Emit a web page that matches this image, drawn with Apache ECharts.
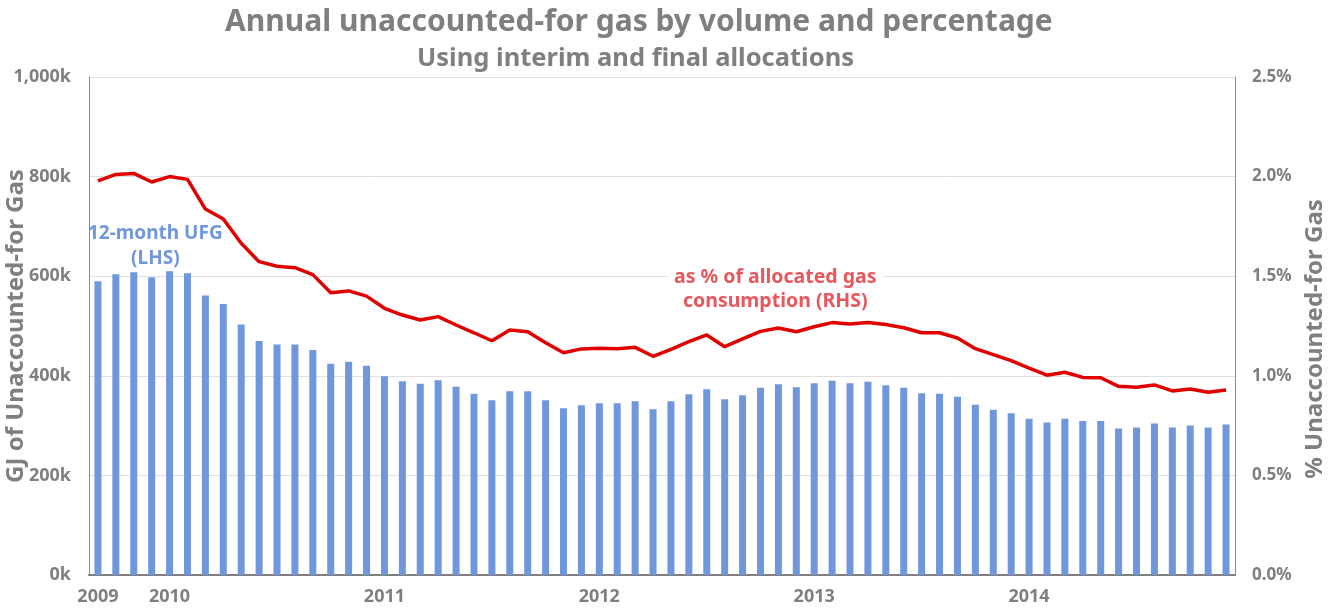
<!DOCTYPE html>
<html>
<head>
<meta charset="utf-8">
<title>Annual unaccounted-for gas</title>
<script src="https://cdn.jsdelivr.net/npm/echarts@6/dist/echarts.min.js"></script>
<style>
  html, body { margin: 0; padding: 0; background: #fff; }
  #chart { width: 1334px; height: 612px; }
</style>
</head>
<body>
<div id="chart"></div>
<script>
// months, Sep 2009 - Dec 2014
var months = [
  '2009-09', '2009-10', '2009-11', '2009-12',
  '2010-01', '2010-02', '2010-03', '2010-04', '2010-05', '2010-06', '2010-07', '2010-08', '2010-09', '2010-10', '2010-11', '2010-12',
  '2011-01', '2011-02', '2011-03', '2011-04', '2011-05', '2011-06', '2011-07', '2011-08', '2011-09', '2011-10', '2011-11', '2011-12',
  '2012-01', '2012-02', '2012-03', '2012-04', '2012-05', '2012-06', '2012-07', '2012-08', '2012-09', '2012-10', '2012-11', '2012-12',
  '2013-01', '2013-02', '2013-03', '2013-04', '2013-05', '2013-06', '2013-07', '2013-08', '2013-09', '2013-10', '2013-11', '2013-12',
  '2014-01', '2014-02', '2014-03', '2014-04', '2014-05', '2014-06', '2014-07', '2014-08', '2014-09', '2014-10', '2014-11', '2014-12'
]

// 12-month UFG, GJ (left axis)
var ufgVolume = [
  590000, 604000, 608000, 598000,
  610000, 606000, 561000, 544000, 503000, 470000, 463000, 463000, 452000, 424000, 428000, 420000,
  399000, 389000, 384000, 391000, 378000, 364000, 351000, 369000, 369000, 351000, 335000, 341000,
  345000, 345000, 349000, 333000, 349000, 363000, 373000, 353000, 361000, 376000, 383000, 377000,
  385000, 390000, 385000, 388000, 381000, 376000, 365000, 364000, 358000, 342000, 332000, 325000,
  314000, 306000, 314000, 309000, 309000, 294000, 296000, 304000, 296000, 300000, 296000, 302000
]

// UFG as % of allocated gas consumption (right axis)
var ufgPercent = [
  1.979, 2.011, 2.016, 1.973,
  2.000, 1.986, 1.837, 1.787, 1.665, 1.573, 1.550, 1.543, 1.508, 1.417, 1.426, 1.400,
  1.339, 1.305, 1.280, 1.297, 1.255, 1.216, 1.176, 1.230, 1.221, 1.166, 1.116, 1.135,
  1.138, 1.136, 1.143, 1.098, 1.133, 1.171, 1.205, 1.146, 1.185, 1.223, 1.240, 1.221,
  1.246, 1.267, 1.260, 1.267, 1.258, 1.241, 1.216, 1.216, 1.190, 1.136, 1.106, 1.076,
  1.038, 1.003, 1.018, 0.992, 0.990, 0.947, 0.942, 0.954, 0.924, 0.934, 0.917, 0.929
]

var grey = '#7f7f7f'
var font = 'Noto Sans'

var chart = echarts.init(document.getElementById('chart'))
chart.setOption({
  animation: false,
  textStyle: { fontFamily: font },
  title: [
    {
      text: 'Annual unaccounted-for gas by volume and percentage',
      left: 220,
      top: 2,
      textStyle: { fontFamily: font, fontSize: 30, fontWeight: 'bold', color: grey }
    },
    {
      text: 'Using interim and final allocations',
      left: 412,
      top: 41,
      textStyle: { fontFamily: font, fontSize: 25.5, fontWeight: 'bold', color: grey }
    }
  ],
  grid: { left: 89, right: 99, top: 77, bottom: 37, containLabel: false, outerBoundsMode: 'none' },
  xAxis: {
    type: 'category',
    data: months,
    boundaryGap: true,
    axisLine: { lineStyle: { color: '#7f7f7f', width: 2 } },
    axisTick: { show: false },
    axisLabel: {
      interval: 0,
      margin: 13,
      color: grey,
      fontSize: 18,
      fontWeight: 'bold',
      formatter: function(v, i) {
        // year label on the first month and every January
        if (i === 0 || v.slice(5) === '01') return v.slice(0, 4)
        return ''
      }
    }
  },
  yAxis: [
    {
      type: 'value',
      min: 0,
      max: 1000000,
      interval: 200000,
      name: 'GJ of Unaccounted-for Gas',
      nameLocation: 'middle',
      nameGap: 61,
      nameMoveOverlap: false,
      nameTextStyle: { color: grey, fontSize: 24, fontWeight: 'bold' },
      axisLine: { show: true, lineStyle: { color: '#8c8c8c' } },
      axisTick: { show: false },
      axisLabel: {
        margin: 18,
        color: grey,
        fontSize: 18,
        fontWeight: 'bold',
        formatter: function(v) {
          return (v / 1000).toLocaleString('en-US') + 'k'
        }
      },
      splitLine: { lineStyle: { color: '#e0e0e0' } }
    },
    {
      type: 'value',
      min: 0,
      max: 2.5,
      interval: 0.5,
      name: '% Unaccounted-for Gas',
      nameLocation: 'middle',
      nameGap: 68,
      nameMoveOverlap: false,
      nameTextStyle: { color: grey, fontSize: 24, fontWeight: 'bold', padding: [0, 26, 0, 0] },
      axisLine: { show: true, lineStyle: { color: '#8c8c8c' } },
      axisTick: { show: false },
      axisLabel: {
        margin: 17,
        color: grey,
        fontSize: 17,
        fontWeight: 'bold',
        formatter: function(v) { return v.toFixed(1) + '%' }
      },
      splitLine: { show: false }
    }
  ],
  series: [
    {
      name: '12-month UFG (LHS)',
      type: 'bar',
      yAxisIndex: 0,
      data: ufgVolume,
      barWidth: 7,
      itemStyle: { color: '#7096db' }
    },
    {
      name: 'as % of allocated gas consumption (RHS)',
      type: 'line',
      yAxisIndex: 1,
      data: ufgPercent,
      symbol: 'none',
      lineStyle: { color: '#e00000', width: 3.5 },
      z: 5
    }
  ],
  graphic: [
    {
      type: 'text',
      left: 88,
      top: 221,
      z: 10,
      style: {
        text: '12-month UFG\n(LHS)',
        fill: '#7096db',
        font: 'bold 19px "Noto Sans"',
        lineHeight: 25,
        textAlign: 'center'
      }
    },
    {
      type: 'text',
      left: 668,
      top: 265,
      z: 10,
      style: {
        text: 'as % of allocated gas\nconsumption (RHS)',
        fill: '#e9575c',
        font: 'bold 19.5px "Noto Sans"',
        lineHeight: 24,
        textAlign: 'center',
        backgroundColor: '#ffffff',
        padding: [0, 6]
      }
    }
  ]
})
</script>
</body>
</html>
